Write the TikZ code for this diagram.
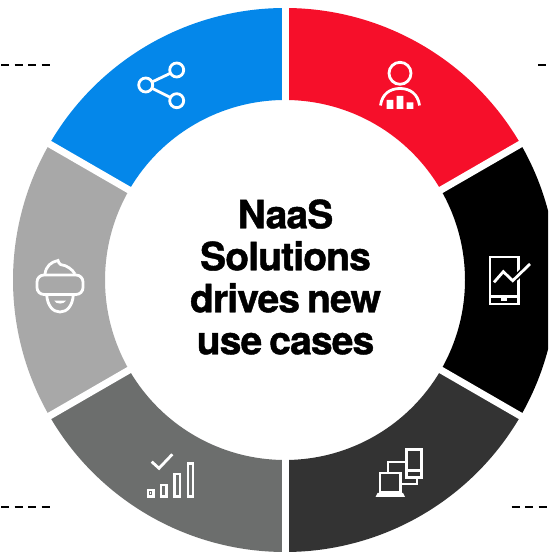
\documentclass[tikz,border=0pt]{standalone}
\usepackage{fontspec}
\setmainfont{TeX Gyre Heros}[LetterSpace=-2.2,BoldFeatures={FakeBold=1.1}]
\tikzset{
 x=1pt,y=1pt,
 ico/.style={draw=white,line width=2.8pt,fill=none},
 icothin/.style={draw=white,line width=2.4pt,fill=none},
 dashl/.style={draw=black,line width=2pt,dash pattern=on 8.3pt off 5.2pt},
 gapline/.style={draw=white,line width=7pt},
 title/.style={font=\bfseries\fontsize{39}{42}\selectfont,align=center,text=black,inner sep=0pt}
}
\definecolor{cred}{HTML}{F60F2A}
\definecolor{cblue}{HTML}{0487EA}
\definecolor{cgrey}{HTML}{A8A8A8}
\definecolor{cmid}{HTML}{6C6E6D}
\definecolor{cdark}{HTML}{333333}
\begin{document}
\begin{tikzpicture}
\useasboundingbox (0,0) rectangle (548,553);
\clip (0,0) rectangle (548,553);
\fill[white] (0,0) rectangle (548,553);
\begin{scope}[shift={(285,273)}]
 \def\Ro{272}\def\Ri{180}
 \foreach \a/\c in {30/cred,90/cblue,150/cgrey,210/cmid,270/cdark,330/black}{
  \fill[\c] (\a:\Ro) arc[start angle=\a,delta angle=60,radius=\Ro] -- ({\a+60}:\Ri) arc[start angle={\a+60},delta angle=-60,radius=\Ri] -- cycle;
 }
 \foreach \a in {30,90,150,210,270,330}{
  \draw[gapline] (\a:170) -- (\a:285);
 }
\end{scope}
\begin{scope}[shift={(0,553)},yscale=-1]
 % dashes
 \draw[dashl] (1,65) -- (50,65);
 \draw[dashl] (538,65) -- (548,65);
 \draw[dashl] (1,507.3) -- (50,507.3);
 \draw[dashl] (511.5,507.3) -- (548,507.3);
 % person
 \draw[ico] (400,73.3) circle[radius=11];
 \draw[ico] (380.5,105.5) .. controls (382,94) and (390,88.5) .. (400,88.5) .. controls (410,88.5) and (418,94) .. (419.5,105.5);
 \fill[white] (386.7,100) rectangle (393.3,109) (396.7,96) rectangle (403.3,109) (406.7,102.3) rectangle (413.3,109);
 % share
 \draw[ico] (145.7,85) circle[radius=7] (176.7,70) circle[radius=7] (176.7,100.7) circle[radius=7];
 \draw[ico] (152,82) -- (170.5,73.2) (152,88.2) -- (170.5,97.5);
 % phone with chart
 \draw[icothin] (490,257) rectangle (518.5,304);
 \draw[icothin] (490,296.5) -- (518.5,296.5);
 \fill[white] (500.7,296) rectangle (506.7,300.6);
 \draw[black,line width=6pt] (512.7,280.7) -- (530,264);
 \draw[ico,miter limit=4] (494,282.3) -- (503.3,271.7) -- (512.7,280.7) -- (530,264);
 % devices
 \draw[icothin] (406.5,449.5) rectangle (421.5,477.5);
 \draw[icothin] (406.5,470.5) -- (421.5,470.5);
 \draw[icothin] (388,472) -- (388,462) -- (406,462);
 \draw[icothin] (417,478) -- (417,484) -- (401,484);
 \draw[icothin] (380,473) rectangle (400.5,492);
 \fill[white] (377.5,493) -- (403,493) -- (405,497) -- (375.5,497) -- cycle;
 % check and bars
 \draw[ico] (151.7,461.7) -- (159,468.3) -- (172.3,454.3);
 \draw[icothin] (147.7,490.3) rectangle (153.3,496.7) (161,485.3) rectangle (166.3,496.7) (174.3,474.3) rectangle (179.7,496.7) (187.7,463.7) rectangle (193,496.7);
 \fill[white] (149.7,492.5) rectangle (151.3,494.5);
 % VR
 \draw[ico,rounded corners=7pt] (37,275) rectangle (83,294.5);
 \draw[ico] (45,274) .. controls (46,266) and (51,262) .. (58,260.5) .. controls (58.5,262) and (59,263.5) .. (60.5,264.5) .. controls (67,265.5) and (72,269) .. (75,274);
 \draw[ico] (46.7,295) .. controls (47.5,306) and (53,312) .. (60,312) .. controls (67,312) and (72.5,306) .. (73.3,295);
 \fill[white] (54.3,300.7) .. controls (56,304.5) and (64,304.5) .. (66,300.7) -- cycle;
\end{scope}
\node[title] (t) at (285.5,276) {NaaS\\Solutions\\drives\hspace{-3pt} new\\use\hspace{-3pt} cases};
\end{tikzpicture}
\end{document}
